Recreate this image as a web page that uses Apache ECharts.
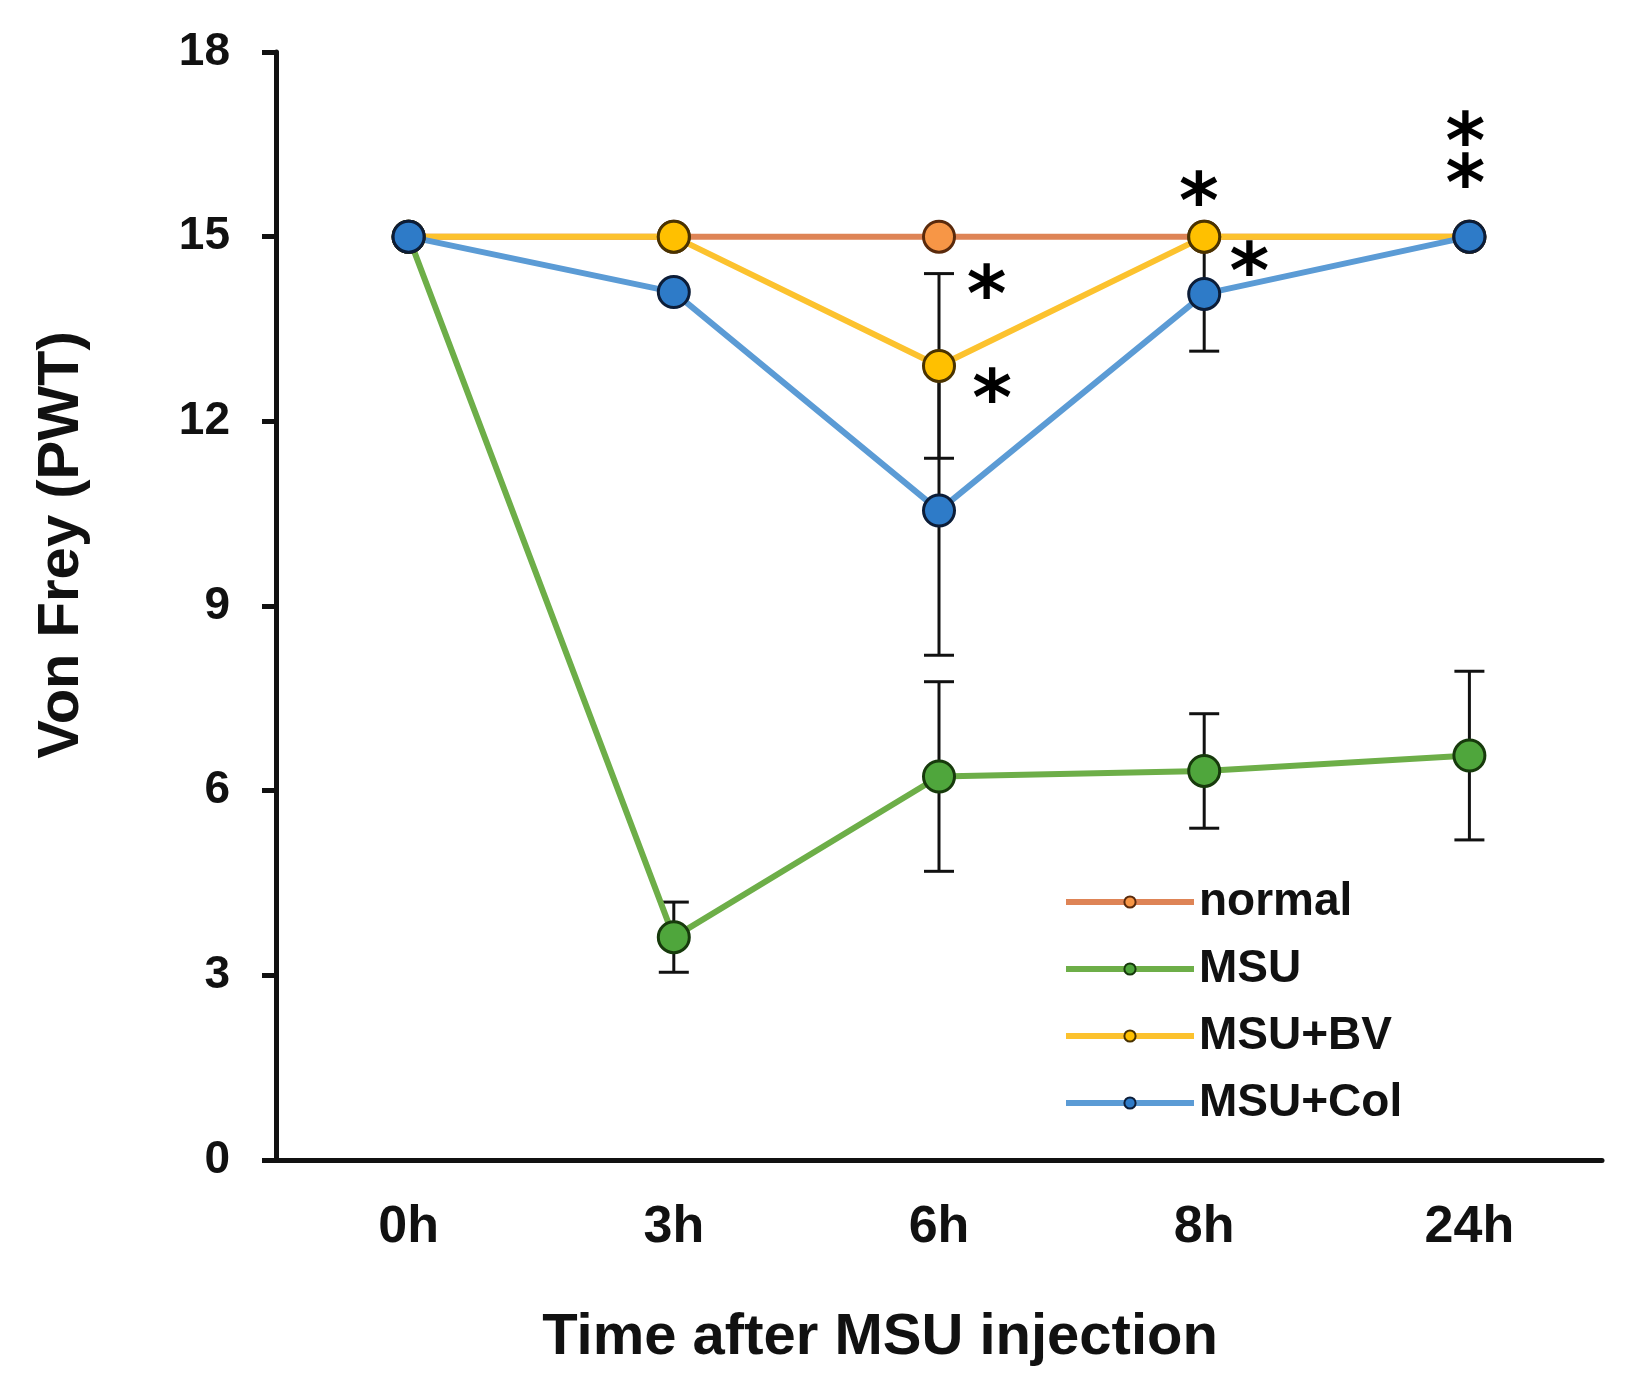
<!DOCTYPE html>
<html>
<head>
<meta charset="utf-8">
<script src="https://cdn.jsdelivr.net/npm/echarts@6/dist/echarts.min.js"></script>
<style>
html,body{margin:0;padding:0;background:#fff;}
#chart{width:1633px;height:1398px;}
</style>
</head>
<body>
<div id="chart"></div>
<script>
const categories = ['0h', '3h', '6h', '8h', '24h'];
const normalVals = [15, 15, 15, 15, 15];
const msuVals = [15, 3.62, 6.23, 6.32, 6.57];
const msuErr = [0, 0.57, 1.54, 0.93, 1.37];
const bvVals = [15, 15, 12.9, 15, 15];
const bvErr = [0, 0, 1.5, 0, 0];
const colVals = [15, 14.1, 10.55, 14.07, 15];
const colErr = [0, 0, 2.35, 0.93, 0];
const seriesNames = ['normal', 'MSU', 'MSU+BV', 'MSU+Col'];
const yMin = 0, yMax = 18, yStep = 3;
const starX = [2.18, 2.20, 2.98, 3.17, 3.985, 3.985];
const starY = [14.25, 12.56, 15.76, 14.62, 16.73, 16.05];
const yTitle = 'Von Frey (PWT)';
const xTitle = 'Time after MSU injection';

const FONT = '"Liberation Sans", Arial, sans-serif';
const INK = '#111111';

const styles = [
  { line: '#DE8456', fill: '#F79646', border: '#5a2a0c' },
  { line: '#6DAE48', fill: '#4FA63C', border: '#173a0c' },
  { line: '#FCC22E', fill: '#FFC000', border: '#4a3300' },
  { line: '#5B9BD5', fill: '#2E7BC8', border: '#0c1d38' }
];
const valueSets = [normalVals, msuVals, bvVals, colVals];

function lineSeries(i) {
  return {
    name: seriesNames[i],
    type: 'line',
    data: valueSets[i],
    symbol: 'circle',
    symbolSize: 31,
    z: 3,
    lineStyle: { color: styles[i].line, width: 6 },
    itemStyle: { color: styles[i].fill, borderColor: styles[i].border, borderWidth: 3 },
    emphasis: { disabled: true },
    animation: false
  };
}

function errSeries(vals, errs) {
  return {
    type: 'custom',
    z: 2,
    silent: true,
    animation: false,
    data: vals.map((v, i) => [i, v, errs[i]]),
    encode: { x: 0, y: 1 },
    renderItem: function (params, api) {
      const x = api.value(0), v = api.value(1), e = api.value(2);
      if (!e) return null;
      const top = api.coord([x, v + e]);
      const bot = api.coord([x, v - e]);
      const hw = 15;
      const st = { stroke: INK, lineWidth: 3 };
      return {
        type: 'group',
        children: [
          { type: 'line', shape: { x1: top[0], y1: top[1], x2: bot[0], y2: bot[1] }, style: st },
          { type: 'line', shape: { x1: top[0] - hw, y1: top[1], x2: top[0] + hw, y2: top[1] }, style: st },
          { type: 'line', shape: { x1: bot[0] - hw, y1: bot[1], x2: bot[0] + hw, y2: bot[1] }, style: st }
        ]
      };
    }
  };
}

const chart = echarts.init(document.getElementById('chart'), null, { renderer: 'canvas' });
chart.setOption({
  backgroundColor: '#ffffff',
  animation: false,
  grid: { left: 276, right: 31, top: 52, bottom: 238 },
  legend: {
    orient: 'vertical',
    left: 1058,
    top: 874,
    itemWidth: 128,
    itemHeight: 14,
    itemGap: 21,
    data: seriesNames,
    lineStyle: { width: 6 },
    textStyle: { fontFamily: FONT, fontWeight: 'bold', fontSize: 46, color: INK, lineHeight: 46 }
  },
  xAxis: [
    {
      type: 'category',
      data: categories,
      boundaryGap: true,
      axisLine: { onZero: false, lineStyle: { color: INK, width: 5 } },
      axisTick: { alignWithLabel: true, length: 9, lineStyle: { color: INK, width: 5 } },
      axisLabel: { fontFamily: FONT, fontWeight: 'bold', fontSize: 52, color: INK, margin: 42 },
      splitLine: { show: false }
    },
    {
      type: 'value',
      min: -0.5,
      max: 4.5,
      show: false,
      splitLine: { show: false }
    }
  ],
  yAxis: {
    type: 'value',
    min: yMin,
    max: yMax,
    interval: yStep,
    axisLine: { show: true, onZero: false, lineStyle: { color: INK, width: 5 } },
    axisTick: { show: true, length: 14, lineStyle: { color: INK, width: 5 } },
    axisLabel: { fontFamily: FONT, fontWeight: 'bold', fontSize: 46, color: INK, margin: 46 },
    splitLine: { show: false }
  },
  graphic: [
    {
      type: 'text',
      x: 62, y: 545,
      rotation: Math.PI / 2,
      style: { text: yTitle, fontFamily: FONT, fontWeight: 'bold', fontSize: 58, fill: INK, align: 'center', verticalAlign: 'middle' }
    },
    {
      type: 'text',
      x: 880, y: 1338,
      style: { text: xTitle, fontFamily: FONT, fontWeight: 'bold', fontSize: 58, fill: INK, align: 'center', verticalAlign: 'middle' }
    }
  ],
  series: [
    errSeries(msuVals, msuErr),
    errSeries(bvVals, bvErr),
    errSeries(colVals, colErr),
    lineSeries(0), lineSeries(1), lineSeries(2), lineSeries(3),
    {
      type: 'scatter',
      xAxisIndex: 1,
      silent: true,
      z: 5,
      symbol: 'circle',
      symbolSize: 2,
      itemStyle: { color: 'rgba(0,0,0,0)' },
      data: starX.map((x, i) => [x, starY[i]]),
      label: {
        show: true,
        position: 'inside',
        formatter: '*',
        offset: [0, 17],
        fontFamily: '"DejaVu Sans", sans-serif',
        fontWeight: 'bold',
        fontSize: 76,
        color: '#000000',
        textBorderWidth: 0,
        opacity: 1
      }
    }
  ]
});
</script>
</body>
</html>
